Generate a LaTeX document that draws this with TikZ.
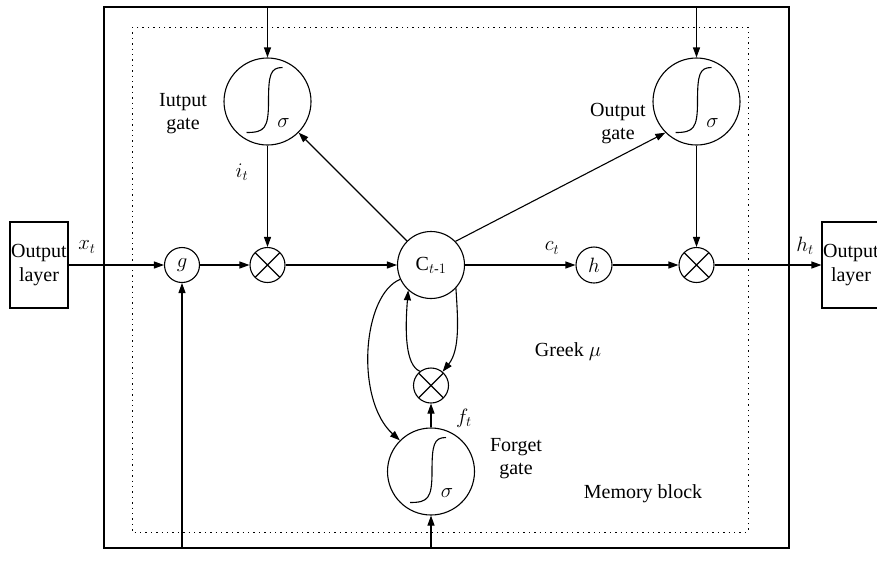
\documentclass[tikz,border=0pt]{standalone}
\usepackage{amsmath}
\usepackage{fontspec}
\setmainfont{Liberation Serif}
\usetikzlibrary{arrows.meta}
\newcommand\sigcurve[1]{%
  \draw[lw] ([shift={(-21,31)}]#1.center) .. controls ([shift={(-3,31)}]#1.center) and ([shift={(1,27)}]#1.center) .. ([shift={(1,0)}]#1.center)
     .. controls ([shift={(1,-27)}]#1.center) and ([shift={(3,-34)}]#1.center) .. ([shift={(15,-34)}]#1.center);
  \node (#1sig) at ([shift={(16,22)}]#1.center) {$\sigma$};}
\begin{document}
\begin{tikzpicture}[x=1pt,y=-1pt,
  every node/.style={font=\fontsize{20}{23}\selectfont},
  lw/.style={line width=1.1pt},
  arr/.style={lw,-{Triangle[length=10pt,width=7pt]}},
  gatec/.style={circle,draw,lw,minimum size=87pt,inner sep=0pt},
  smallc/.style={circle,draw,lw,minimum size=35pt,inner sep=0pt},
  mult/.style={circle,draw,lw,minimum size=35pt,inner sep=0pt,
    path picture={\draw[lw] (path picture bounding box.north west)--(path picture bounding box.south east)
      (path picture bounding box.north east)--(path picture bounding box.south west);}},
  layerbox/.style={draw,lw,minimum width=58pt,minimum height=86pt,inner sep=0pt,align=center,font=\fontsize{20}{24}\selectfont},
  dotbox/.style={line width=1pt,dash pattern=on 1.4pt off 4pt},
  lbl/.style={align=center,inner sep=0pt}
]
\useasboundingbox (0,0) rectangle (877,563);
% frames
\draw[lw] (104,7) rectangle (789,548);
\draw[dotbox] (132,27) rectangle (748,532);
% coordinates on the outer frame
\coordinate (topI) at (267.5,7);
\coordinate (topO) at (696.5,7);
\coordinate (botG) at (182,548);
\coordinate (botF) at (431,548);
% nodes
\node[layerbox] (inL) at (39,265) {Output\\layer};
\node[layerbox] (outL) at (851,265) {Output\\layer};
\node[smallc] (g) at (182,265) {$g$};
\node[mult] (m1) at (267.5,265) {};
\node[circle,draw,lw,minimum size=67pt,inner sep=0pt] (C) at (431,265) {$\mathrm{C}_{t\text{-}1}$};
\node[smallc,minimum size=36pt] (h) at (594,265) {$h$};
\node[mult] (mR) at (696.5,265) {};
\node[gatec] (ig) at (267.5,101.5) {};
\node[gatec] (og) at (696.5,101.5) {};
\node[gatec] (fg) at (431,471.5) {};
\node[mult] (sm) at (431,385.5) {};
\sigcurve{ig}
\sigcurve{og}
\sigcurve{fg}
% labels
\node[lbl] (lxt) at (87,247) {$x_t$};
\node[lbl] (lit) at (242,172) {$i_t$};
\node[lbl] (lct) at (552,248) {$c_t$};
\node[lbl] (lht) at (805,246) {$h_t$};
\node[lbl] (lft) at (464,418) {$f_t$};
\node[lbl] (lig) at (183,114) {Iutput\\gate};
\node[lbl] (log) at (618,124) {Output\\gate};
\node[lbl] (lfg) at (516,459) {Forget\\gate};
\node[lbl] (lgm) at (568,352) {Greek $\mu$};
\node[lbl] (lmb) at (643,494) {Memory block};
% connectors
\draw[arr] (inL.east) -- (g.west);
\draw[arr] (g.east) -- (m1.west);
\draw[arr] (m1.east) -- (C.west);
\draw[arr] (C.east) -- (h.west);
\draw[arr] (h.east) -- (mR.west);
\draw[arr] (mR.east) -- (outL.west);
\draw[arr] (topI) -- (ig.north);
\draw[arr] (topO) -- (og.north);
\draw[arr] (ig.south) -- (m1.north);
\draw[arr] (og.south) -- (mR.north);
\draw[arr] (C.135) -- (ig.-45);
\draw[arr] (C.44) -- (og.225);
\draw[arr] (botG) -- (g.south);
\draw[arr] (botF) -- (fg.south);
\draw[arr] (fg.north) -- (sm.south);
\draw[arr] (C.205) .. controls (362,295) and (355,400) .. (fg.135);
\draw[arr] (sm.128) .. controls (405,365) and (405,330) .. (C.228);
\draw[arr] (C.-43) .. controls (458,320) and (460,350) .. (sm.50);
\end{tikzpicture}
\end{document}
